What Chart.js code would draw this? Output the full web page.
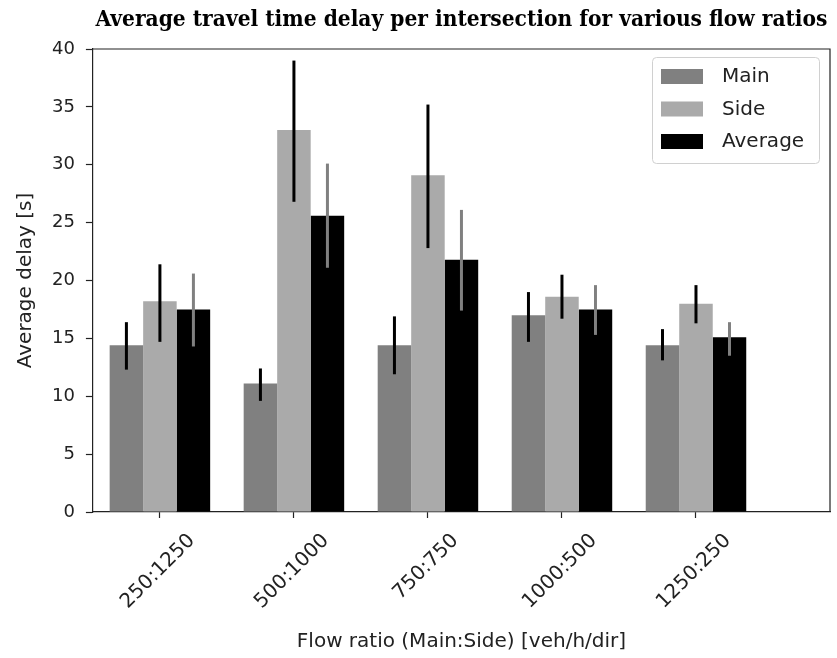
<!DOCTYPE html>
<html>
<head>
<meta charset="utf-8">
<script src="https://cdn.jsdelivr.net/npm/chart.js@4.4.1/dist/chart.umd.min.js"></script>
<style>
    html, body { margin: 0; padding: 0; background: #fff; }
    #wrap { width: 837px; height: 658px; }
</style>
</head>
<body>
<div id="wrap"><canvas id="delayChart"></canvas></div>
<script>
// Flow ratios (Main:Side)
const categories = ['250:1250', '500:1000', '750:750', '1000:500', '1250:250'];

// Mean delay per intersection [s]
const mainDelay = [14.4, 11.1, 14.4, 17.0, 14.4];
const sideDelay = [18.2, 33.0, 29.1, 18.6, 18.0];
const avgDelay = [17.5, 25.6, 21.8, 17.5, 15.1];

// Error bar ranges [s]
const mainLow = [12.3, 9.6, 11.9, 14.7, 13.1];
const mainHigh = [16.4, 12.4, 16.9, 19.0, 15.8];
const sideLow = [14.7, 26.8, 22.8, 16.7, 16.3];
const sideHigh = [21.4, 39.0, 35.2, 20.5, 19.6];
const avgLow = [14.3, 21.1, 17.4, 15.3, 13.5];
const avgHigh = [20.6, 30.1, 26.1, 19.6, 16.4];

const yTicks = [0, 5, 10, 15, 20, 25, 30, 35, 40];

const catFont = '20px "DejaVu Sans"';
const inkColor = '#222222';

// Error bars drawn on top of each bar
const errorBarPlugin = {
    id: 'errorBars',
    afterDatasetsDraw(chart) {
        const ctx = chart.ctx;
        const yScale = chart.scales.y;
        const ranges = [[mainLow, mainHigh], [sideLow, sideHigh], [avgLow, avgHigh]];
        const colors = ['#000000', '#000000', '#808080'];
        ctx.save();
        ctx.lineWidth = 3;
        ranges.forEach((r, d) => {
            const meta = chart.getDatasetMeta(d);
            ctx.strokeStyle = colors[d];
            meta.data.forEach((bar, i) => {
                ctx.beginPath();
                ctx.moveTo(bar.x, yScale.getPixelForValue(r[0][i]));
                ctx.lineTo(bar.x, yScale.getPixelForValue(r[1][i]));
                ctx.stroke();
            });
        });
        ctx.restore();
    }
};

// Frame, rotated category labels and legend box
const decorPlugin = {
    id: 'decor',
    afterDraw(chart) {
        const ctx = chart.ctx;
        const area = chart.chartArea;
        const xScale = chart.scales.x;

        // top and right spines
        ctx.save();
        ctx.strokeStyle = inkColor;
        ctx.lineWidth = 1.2;
        ctx.beginPath();
        ctx.moveTo(area.left, area.top);
        ctx.lineTo(area.right, area.top);
        ctx.lineTo(area.right, area.bottom);
        ctx.stroke();
        ctx.restore();

        // category labels rotated 45 degrees, centred under the tick
        ctx.save();
        ctx.font = catFont;
        ctx.fillStyle = inkColor;
        ctx.textAlign = 'center';
        ctx.textBaseline = 'middle';
        categories.forEach((label, i) => {
            const x = xScale.getPixelForValue(i);
            const w = ctx.measureText(label).width;
            const boxH = (w + 16) * Math.SQRT1_2;
            const y = area.bottom + 20 + boxH / 2;
            ctx.save();
            ctx.translate(x - 2, y);
            ctx.rotate(-Math.PI / 4);
            ctx.fillText(label, 0, 0);
            ctx.restore();
        });
        ctx.restore();

        // legend
        const sets = chart.data.datasets;
        const boxX = 652, boxY = 57, boxW = 167, boxH = 106;
        ctx.save();
        ctx.fillStyle = 'rgba(255,255,255,0.8)';
        ctx.strokeStyle = '#d0d0d0';
        ctx.lineWidth = 1;
        ctx.beginPath();
        ctx.roundRect(boxX + 0.5, boxY + 0.5, boxW, boxH, 4);
        ctx.fill();
        ctx.stroke();
        ctx.font = '20px "DejaVu Sans"';
        ctx.textAlign = 'left';
        ctx.textBaseline = 'middle';
        sets.forEach((ds, k) => {
            const cy = boxY + 19 + k * 32.5;
            ctx.fillStyle = ds.backgroundColor;
            ctx.fillRect(boxX + 9, cy - 7, 42, 15);
            ctx.fillStyle = inkColor;
            ctx.fillText(ds.label, boxX + 70, cy + 1);
        });
        ctx.restore();
    }
};

const ctx = document.getElementById('delayChart').getContext('2d');
new Chart(ctx, {
    type: 'bar',
    data: {
        datasets: [
            {
                label: 'Main',
                data: mainDelay.map((v, i) => ({ x: i, y: v })),
                backgroundColor: '#808080'
            },
            {
                label: 'Side',
                data: sideDelay.map((v, i) => ({ x: i, y: v })),
                backgroundColor: '#aaaaaa'
            },
            {
                label: 'Average',
                data: avgDelay.map((v, i) => ({ x: i, y: v })),
                backgroundColor: '#000000'
            }
        ]
    },
    options: {
        responsive: true,
        maintainAspectRatio: false,
        animation: false,
        datasets: {
            bar: {
                categoryPercentage: 0.75,
                barPercentage: 1.0,
                borderWidth: 0
            }
        },
        layout: {
            padding: { top: 0, right: 7, bottom: 0, left: 2 }
        },
        plugins: {
            legend: { display: false },
            tooltip: { enabled: false },
            title: {
                display: true,
                fullSize: false,
                text: 'Average travel time delay per intersection for various flow ratios',
                color: '#000000',
                font: { family: '"DejaVu Serif Condensed", "DejaVu Serif", serif', size: 22.5, weight: 'bold' },
                padding: { top: 7, bottom: 15 }
            }
        },
        scales: {
            x: {
                type: 'linear',
                min: -0.5,
                max: 5,
                offset: false,
                afterBuildTicks: (scale) => {
                    scale.ticks = categories.map((c, i) => ({ value: i }));
                },
                ticks: { display: false },
                grid: {
                    offset: false,
                    drawOnChartArea: false,
                    drawTicks: true,
                    tickLength: 6,
                    color: inkColor,
                    tickColor: inkColor,
                    tickWidth: 1.2
                },
                border: { display: true, color: inkColor, width: 1.2 },
                title: {
                    display: true,
                    text: 'Flow ratio (Main:Side) [veh/h/dir]',
                    color: inkColor,
                    font: { family: '"DejaVu Sans"', size: 20 },
                    padding: { top: 112, bottom: 4 }
                }
            },
            y: {
                min: 0,
                max: 40,
                afterBuildTicks: (scale) => {
                    scale.ticks = yTicks.map(v => ({ value: v }));
                },
                ticks: {
                    color: inkColor,
                    font: { family: '"DejaVu Sans"', size: 18 },
                    padding: 11
                },
                grid: {
                    drawOnChartArea: false,
                    drawTicks: true,
                    tickLength: 7,
                    color: inkColor,
                    tickColor: inkColor,
                    tickWidth: 1.2
                },
                border: { display: true, color: inkColor, width: 1.2 },
                title: {
                    display: true,
                    text: 'Average delay [s]',
                    color: inkColor,
                    font: { family: '"DejaVu Sans"', size: 20 },
                    padding: { top: 12, bottom: 3 }
                }
            }
        }
    },
    plugins: [errorBarPlugin, decorPlugin]
});
</script>
</body>
</html>
